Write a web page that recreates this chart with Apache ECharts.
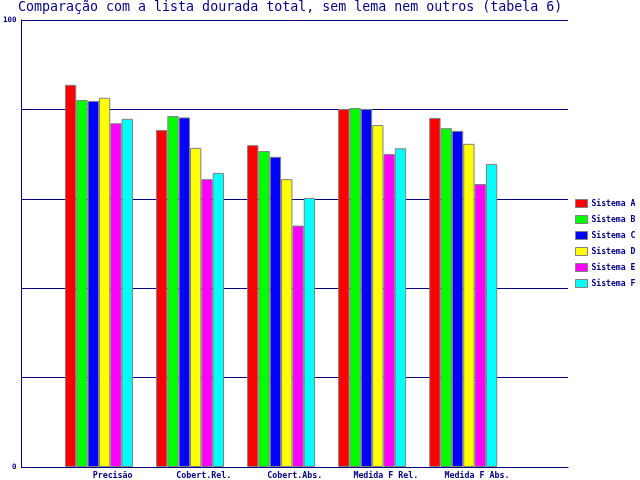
<!DOCTYPE html>
<html>
<head>
<meta charset="utf-8">
<script src="https://cdn.jsdelivr.net/npm/echarts@6/dist/echarts.min.js"></script>
<style>html,body{margin:0;padding:0;background:#fff;}#c{width:640px;height:480px;}</style>
</head>
<body>
<div id="c"></div>
<script>
const title = 'Comparação com a lista dourada total, sem lema nem outros (tabela 6)';
const categories = ['Precisão', 'Cobert.Rel.', 'Cobert.Abs.', 'Medida F Rel.', 'Medida F Abs.'];
const seriesNames = ['Sistema A', 'Sistema B', 'Sistema C', 'Sistema D', 'Sistema E', 'Sistema F'];
const sistemaA = [85.5, 75.4, 72.0, 80.1, 78.1];
const sistemaB = [82.1, 78.5, 70.7, 80.3, 75.8];
const sistemaC = [81.9, 78.2, 69.4, 80.1, 75.2];
const sistemaD = [82.6, 71.4, 64.4, 76.5, 72.3];
const sistemaE = [76.9, 64.4, 54.0, 70.0, 63.3];
const sistemaF = [77.9, 65.8, 60.2, 71.3, 67.8];
const yTicks = [0, 100];
const colors = ['#ff0000', '#00ff00', '#0000ff', '#ffff00', '#ff00ff', '#00ffff'];
const allValues = [sistemaA, sistemaB, sistemaC, sistemaD, sistemaE, sistemaF];

const navy = '#000080';
const mono = 'DejaVu Sans Mono';
const gridLeft = 19, gridRight = 72;
const unitPx = (640 - gridLeft - gridRight) / (categories.length + 1);
const barW = 11.33;
// group of bars starts just before the middle of the slot preceding each label
const groupOffset = -0.5 + (barW * seriesNames.length / 2 - 2) / unitPx;

const chart = echarts.init(document.getElementById('c'), null, {renderer: 'canvas'});
chart.setOption({
  animation: false,
  backgroundColor: '#ffffff',
  title: {
    text: title, left: 18, top: 1, padding: 0,
    textStyle: {color: navy, fontFamily: mono, fontSize: 13.3, fontWeight: 'normal'}
  },
  legend: {
    orient: 'vertical', left: 575, top: 199, padding: 0,
    itemWidth: 12, itemHeight: 8, itemGap: 7,
    icon: 'rect',
    data: seriesNames,
    itemStyle: {borderColor: '#808080', borderWidth: 1},
    textStyle: {color: navy, fontFamily: mono, fontSize: 8.1, fontWeight: 'bold', lineHeight: 8, padding: [0, 0, 0, -1]}
  },
  grid: {left: gridLeft, right: gridRight, top: 20, bottom: 13},
  xAxis: {
    type: 'value', min: 0, max: categories.length + 1, interval: 1,
    axisLine: {show: true, lineStyle: {color: navy, width: 1}},
    axisTick: {show: false},
    splitLine: {show: false},
    axisLabel: {
      color: navy, fontFamily: mono, fontSize: 8.3, fontWeight: 'bold', margin: 5,
      showMinLabel: true, showMaxLabel: true,
      formatter: v => categories[v - 1] || ''
    }
  },
  yAxis: {
    type: 'value', min: 0, max: 100, interval: 20,
    axisLine: {show: true, lineStyle: {color: navy, width: 1}},
    axisTick: {show: false},
    splitLine: {show: true, lineStyle: {color: navy, width: 1}},
    axisLabel: {
      color: navy, fontFamily: mono, fontSize: 7.5, fontWeight: 'bold', margin: 5,
      formatter: v => yTicks.includes(v) ? String(v) : ''
    }
  },
  series: seriesNames.map((name, s) => ({
    name: name,
    type: 'bar',
    barWidth: barW,
    barGap: '0%',
    itemStyle: {color: colors[s], borderColor: '#808080', borderWidth: 1},
    data: allValues[s].map((v, i) => [i + 1 + groupOffset, v])
  }))
});
</script>
</body>
</html>
